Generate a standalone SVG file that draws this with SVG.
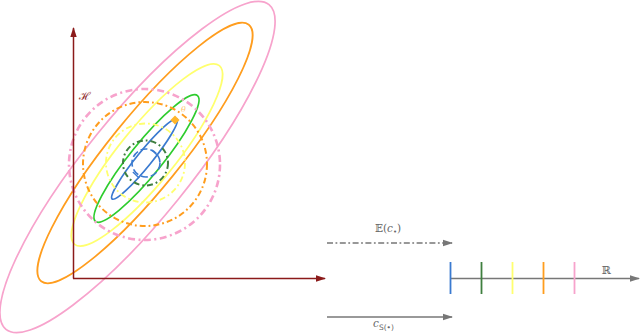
<svg xmlns="http://www.w3.org/2000/svg" width="640" height="335" viewBox="0 0 640 335">
<defs>
<style>
.el{fill:none;stroke-width:1.7}
.dc{fill:none}
.gray{stroke:#777;stroke-width:1.4;fill:none}
.lbl{font-family:"DejaVu Serif","Liberation Serif",serif;fill:#666}
</style>
<marker id="ahR" markerWidth="10" markerHeight="8" refX="9" refY="4" orient="auto" markerUnits="userSpaceOnUse">
<path d="M0,0.8 L10,4 L0,7.2 Z" fill="#8b1a1a"/>
</marker>
<marker id="ahG" markerWidth="10" markerHeight="8" refX="9" refY="4" orient="auto" markerUnits="userSpaceOnUse">
<path d="M0,0.8 L10,4 L0,7.2 Z" fill="#777"/>
</marker>
</defs>
<rect width="640" height="335" fill="#fff"/>

<g id="ellipses">
<ellipse id="pink-ellipse" class="el" cx="0" cy="0" rx="209" ry="52" transform="translate(137.5,167) rotate(-51)" stroke="#f7a3cc"/>
<ellipse id="orange-ellipse" class="el" cx="0" cy="0" rx="165" ry="36" transform="translate(145,153) rotate(-51)" stroke="#ff9d1e"/>
<ellipse id="yellow-ellipse" class="el" cx="0" cy="0" rx="115" ry="28" transform="translate(147,155) rotate(-51)" stroke="#ffff6e"/>
<ellipse id="green-ellipse" class="el" cx="0" cy="0" rx="81" ry="16" transform="translate(146.5,158.5) rotate(-51)" stroke="#2ecc2e"/>
<ellipse id="blue-ellipse" class="el" cx="0" cy="0" rx="51.5" ry="7.5" transform="translate(144.5,159) rotate(-51)" stroke="#3a7ad0"/>
</g>

<g id="circles">
<circle id="pink-circle" class="dc" cx="144.5" cy="164.5" r="75.5" stroke="#f7a3cc" stroke-width="2.6" stroke-dasharray="7 3.5 2 3.5"/>
<circle id="orange-circle" class="dc" cx="145" cy="164" r="62" stroke="#ff9d1e" stroke-width="2" stroke-dasharray="6 3 1.8 3"/>
<circle id="yellow-circle" class="dc" cx="145.5" cy="163" r="39.5" stroke="#ffff6e" stroke-width="1.8" stroke-dasharray="6 3 1.8 3"/>
<circle id="darkgreen-circle" class="dc" cx="145.5" cy="163" r="22.5" stroke="#3f7f3f" stroke-width="2" stroke-dasharray="6 3 1.8 3"/>
<circle id="blue-circle" class="dc" cx="146" cy="163" r="14" stroke="#3a7ad0" stroke-width="1.6" stroke-dasharray="7 3"/>
</g>

<g id="blue-ticks" stroke="#3a7ad0" stroke-width="1.4">
<line x1="151.9" y1="149.9" x2="158.1" y2="156.1"/>
<line x1="132.9" y1="171.9" x2="139.1" y2="178.1"/>
</g>

<g id="theta-point">
<path d="M175,115.5 L179.5,120 L175,124.5 L170.5,120 Z" fill="#ffb52a"/>
<text x="181" y="112" font-family="DejaVu Serif,serif" font-style="italic" font-size="8" fill="#ffc870">θ</text>
</g>

<g id="connectors">
<line id="axis-v" x1="73.5" y1="278.5" x2="73.5" y2="28" stroke="#8b1a1a" stroke-width="1.5" marker-end="url(#ahR)"/>
<line id="axis-h" x1="73" y1="278.5" x2="325" y2="278.5" stroke="#8b1a1a" stroke-width="1.5" marker-end="url(#ahR)"/>
<line id="arrow-expect" class="gray" x1="327" y1="243" x2="452" y2="243" stroke-dasharray="6 2.5 1.8 2.5" marker-end="url(#ahG)"/>
<line id="arrow-cs" class="gray" x1="327" y1="317" x2="452" y2="317" marker-end="url(#ahG)"/>
<line id="axis-R" class="gray" x1="450" y1="278.5" x2="639" y2="278.5" marker-end="url(#ahG)"/>
</g>

<g id="axis-label">
<text x="79" y="100" font-family="DejaVu Serif,serif" font-size="11" fill="#8b1a1a">ℋ</text>
</g>

<g id="r-ticks" stroke-width="1.8">
<line x1="450.5" y1="262" x2="450.5" y2="294" stroke="#3a7ad0"/>
<line x1="481.5" y1="262" x2="481.5" y2="294" stroke="#3f7f3f"/>
<line x1="512.5" y1="262" x2="512.5" y2="294" stroke="#ffff6e"/>
<line x1="543.5" y1="262" x2="543.5" y2="294" stroke="#ff9d1e"/>
<line x1="574.5" y1="262" x2="574.5" y2="294" stroke="#f7a3cc"/>
</g>

<g id="labels">
<text class="lbl" x="606" y="274" font-size="11" text-anchor="middle">ℝ</text>
<text class="lbl" x="388" y="232" font-size="10.5" text-anchor="middle">𝔼(<tspan font-style="italic">c</tspan><tspan font-size="7" dy="2">•</tspan><tspan dy="-2">)</tspan></text>
<text class="lbl" x="373" y="327" font-size="10.5"><tspan font-style="italic">c</tspan><tspan font-size="7.5" dy="2.5" font-family="DejaVu Sans,sans-serif">S(•)</tspan></text>
</g>
</svg>
